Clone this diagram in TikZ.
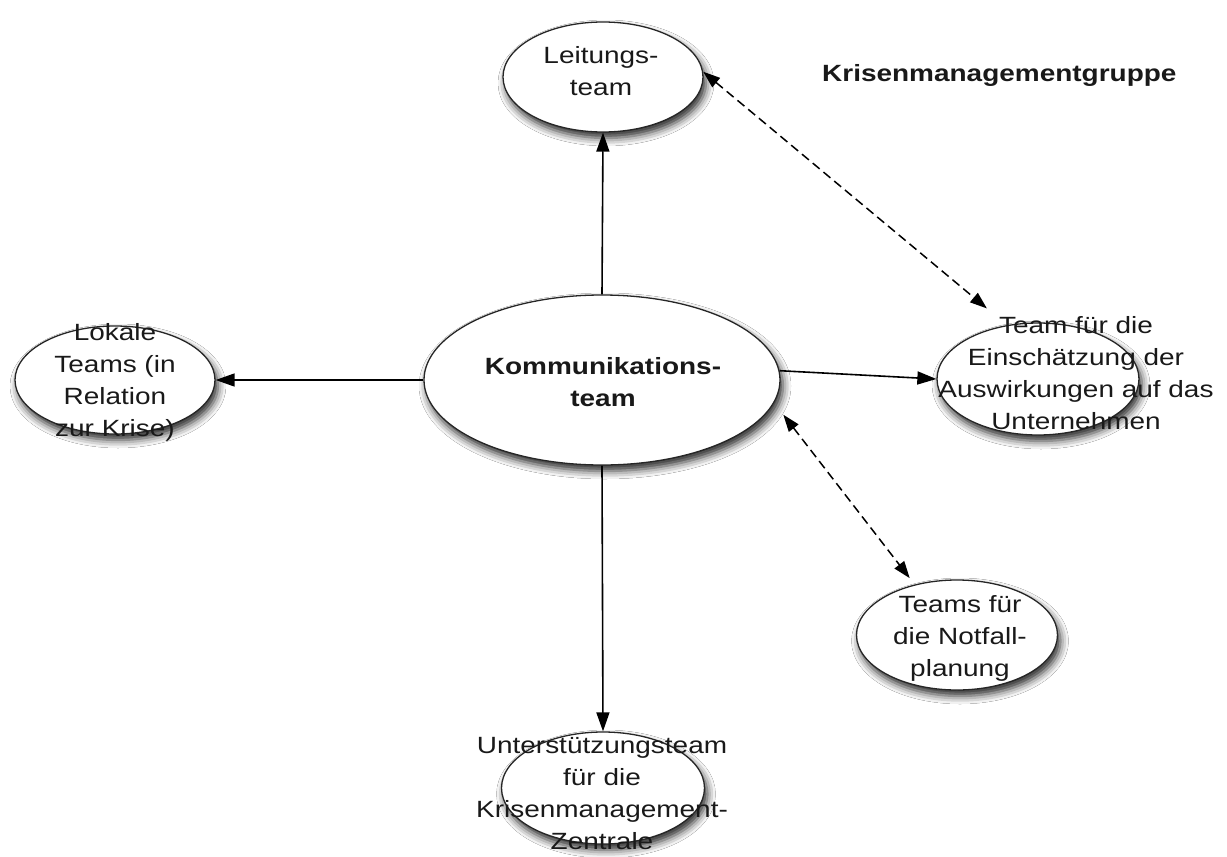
\documentclass[tikz,border=0pt]{standalone}
\usepackage{fontspec}
\setmainfont{Liberation Sans}
\usetikzlibrary{arrows.meta,shapes.geometric,shadows.blur}
\newcommand{\mylines}[1]{\scalebox{1.19}[1]{\begin{tabular}{@{}c@{}}#1\end{tabular}}}
\tikzset{
  ell/.style={ellipse, draw=black!85, line width=1.3pt, fill=white, inner sep=0pt,
    blur shadow={shadow xshift=3pt, shadow yshift=-6pt, shadow blur radius=8pt, shadow opacity=85}},
  txt/.style={font=\fontsize{23.5}{32}\selectfont, inner sep=0pt, text=black!90},
  arr/.style={line width=1.6pt, -{Triangle[length=19pt,width=13pt]}},
  darr/.style={line width=1.5pt, dash pattern=on 9pt off 5pt,
    {Triangle[length=17pt,width=12pt]}-{Triangle[length=17pt,width=12pt]}},
}
\begin{document}
\begin{tikzpicture}[x=1pt,y=-1pt]
\useasboundingbox[fill=white] (0,0) rectangle (1227,857);
% ellipses
\node[ell, minimum width=200pt, minimum height=110pt] (lei) at (603,77) {};
\node[ell, minimum width=356pt, minimum height=170pt] (komm) at (602,380) {};
\node[ell, minimum width=200pt, minimum height=108pt] (lok) at (115,380) {};
\node[ell, minimum width=202pt, minimum height=112pt] (ein) at (1038,379) {};
\node[ell, minimum width=201pt, minimum height=110pt] (notf) at (957,635) {};
\node[ell, minimum width=203pt, minimum height=112pt] (unt) at (603,788) {};
% connectors
\draw[arr] (komm.north) -- (lei.south);
\draw[arr] (komm.west) -- (lok.east);
\draw[arr] (komm.3) -- (ein.west);
\draw[arr] (komm.south) -- (unt.north);
\draw[darr, shorten >=26pt] (lei.3) -- (ein.120);
\draw[darr, shorten >=8pt] ([xshift=18pt]komm.-12) -- (notf.130);
% texts
\node[txt] (tlei) at (601,73) {\mylines{Leitungs-\\team}};
\node[txt, font=\fontsize{23.5}{32}\selectfont\bfseries] (tkomm) at (603,384) {\mylines{Kommunikations-\\team}};
\node[txt] (tlok) at (115,382) {\mylines{Lokale\\Teams (in\\Relation\\zur Krise)}};
\node[txt] (tein) at (1076,375) {\mylines{Team für die\\Einschätzung der\\Auswirkungen auf das\\Unternehmen}};
\node[txt] (tnotf) at (960,638) {\mylines{Teams für\\die Notfall-\\planung}};
\node[txt] (tunt) at (602,795) {\mylines{Unterstützungsteam\\für die\\Krisenmanagement-\\Zentrale}};
\node[txt, font=\fontsize{23.5}{32}\selectfont\bfseries, anchor=west] (title) at (822,75) {\scalebox{1.19}[1]{Krisenmanagementgruppe}};
\end{tikzpicture}
\end{document}
